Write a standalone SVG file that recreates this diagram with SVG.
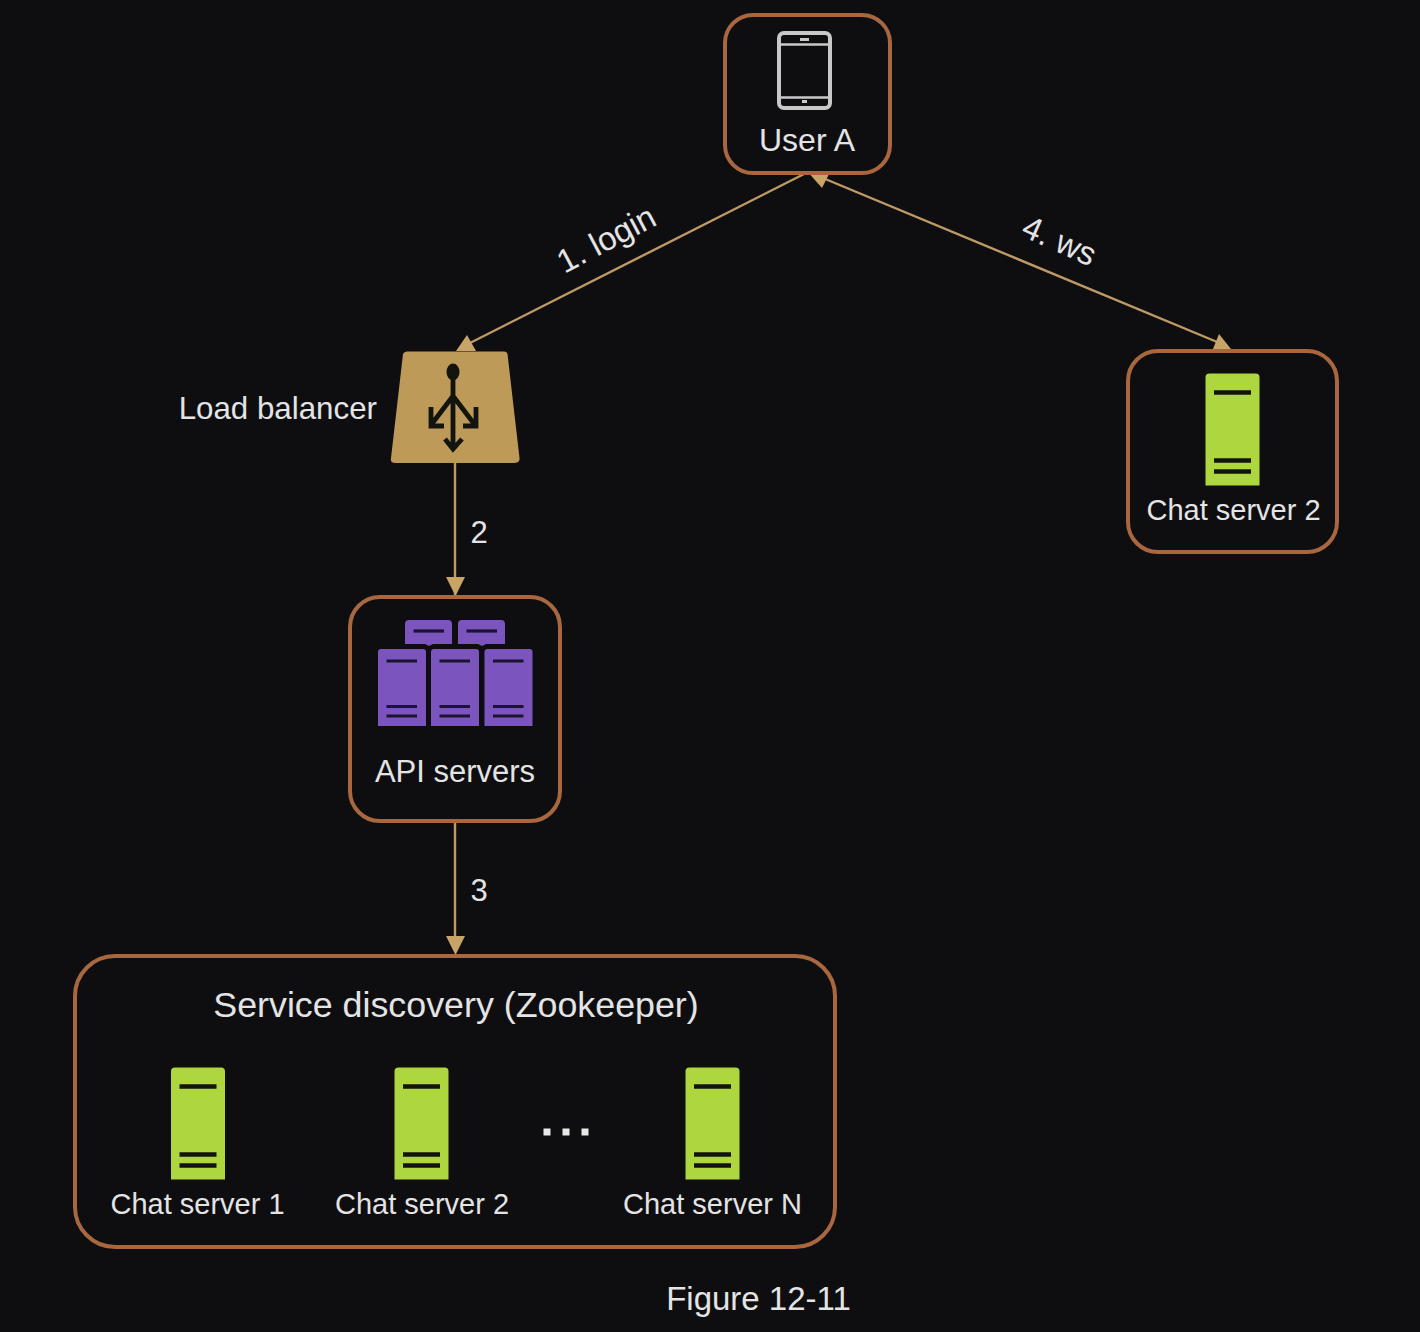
<svg xmlns="http://www.w3.org/2000/svg" width="1420" height="1332" viewBox="0 0 1420 1332">
<style>
text{font-family:"Liberation Sans",Arial,sans-serif;fill:#e4e4e4;font-size:31px}
.m{text-anchor:middle}
.box{fill:#0e0e10;stroke:#a9673f;stroke-width:4}
.c{fill:none;stroke:#bd9a66;stroke-width:2.4}
.h{fill:#c9a468}
.g{fill:#aed63f}.p{fill:#7b55bd}
.dk{stroke:#14140f;stroke-width:4.5;fill:none}
.dp{stroke:#1b1330;stroke-width:3.2;fill:none}
</style>
<defs>
<g id="srv"><path d="M4 0H50Q54 0 54 4V112H0V4Q0 0 4 0Z" class="g"/><path d="M8.500 19H45.500M8.500 87H45.500M8.500 98H45.500" class="dk"/></g>
<g id="pur"><path d="M3 0H45Q48 0 48 3V77H0V3Q0 0 3 0Z" class="p"/><path d="M8.500 12H39M8.500 57.500H39M8.500 67H39" class="dp"/></g>
<g id="ptop"><path d="M4 0H43Q47 0 47 4V24H28L24 26L20 24H0V4Q0 0 4 0Z" class="p"/><path d="M8.500 11H39" class="dp"/></g>
</defs>
<rect width="1420" height="1332" fill="#0e0e10"/>
<g id="connectors">
<path class="c" d="M808 172L466 345"/>
<path class="c" d="M1222 344L818 176"/>
<path class="c" d="M455 463V940"/>
<path class="h" d="M456 351H476L467 335Z"/>
<path class="h" d="M807 171L830 172L822 188Z"/>
<path class="h" d="M1231 349H1213L1219 334Z"/>
<path class="h" d="M446 577H465L455.500 596Z"/>
<path class="h" d="M446 936H465L455.500 955Z"/>
<text x="611.500" y="249" transform="rotate(-28 611.500 249)" class="m" style="font-size:33px">1. login</text>
<text x="1055" y="251" transform="rotate(24 1055 251)" class="m" style="font-size:33px">4. ws</text>
<text x="479" y="543" class="m">2</text>
<text x="479" y="901" class="m">3</text>
</g>
<g id="user-a">
<rect class="box" x="725" y="15" width="165" height="158" rx="28"/>
<rect x="779" y="33" width="51" height="75" rx="5" fill="none" stroke="#c8c8c8" stroke-width="4"/>
<path d="M779 44.500H830M779 97.500H830" stroke="#c8c8c8" stroke-width="2.500" fill="none"/>
<path d="M800 39.500H809M802 101.500H807" stroke="#c8c8c8" stroke-width="3" fill="none"/>
<text x="807" y="151" class="m" style="font-size:32px">User A</text>
</g>
<g id="load-balancer">
<path d="M407 351.500H504Q507 351.500 507.500 354L519.500 458Q520 463 515 463H395Q390 463 391 458L403 354Q404 351.500 407 351.500Z" fill="#bd9a58"/>
<ellipse cx="453" cy="372" rx="6.500" ry="8.500" fill="#14140f"/>
<path d="M453 378V450M431 425L453 396L475 425M431 407V426H444M476 407V426H463M445 439L453 449L462 439" fill="none" stroke="#14140f" stroke-width="4.800"/>
<text x="377" y="419" text-anchor="end" style="font-size:31.300px">Load balancer</text>
</g>
<g id="chat-server-2-right">
<rect class="box" x="1128" y="351" width="209" height="201" rx="30"/>
<use href="#srv" x="1205.500" y="373.500"/>
<text x="1233.500" y="520" class="m" style="font-size:29px">Chat server 2</text>
</g>
<g id="api-servers">
<rect class="box" x="350" y="597" width="210" height="224" rx="30"/>
<use href="#ptop" x="405" y="620"/><use href="#ptop" x="458" y="620"/>
<use href="#pur" x="378" y="649"/><use href="#pur" x="431" y="649"/><use href="#pur" x="484.500" y="649"/>
<text x="455" y="782" class="m">API servers</text>
</g>
<g id="service-discovery">
<rect class="box" x="75" y="956" width="760" height="291" rx="40"/>
<text x="456" y="1017" class="m" style="font-size:35.800px">Service discovery (Zookeeper)</text>
<use href="#srv" x="171" y="1067.500"/><use href="#srv" x="394.500" y="1067.500"/><use href="#srv" x="685.500" y="1067.500"/>
<text x="197.500" y="1214" class="m" style="font-size:29px">Chat server 1</text>
<text x="422" y="1214" class="m" style="font-size:29px">Chat server 2</text>
<text x="712.500" y="1214" class="m" style="font-size:29px">Chat server N</text>
<path d="M543.500 1132h7M562.500 1132h7M581.500 1132h7" stroke="#e8e8e8" stroke-width="7" fill="none"/>
</g>
<text id="caption" x="758.500" y="1310" class="m" style="font-size:33px">Figure 12-11</text>
</svg>
